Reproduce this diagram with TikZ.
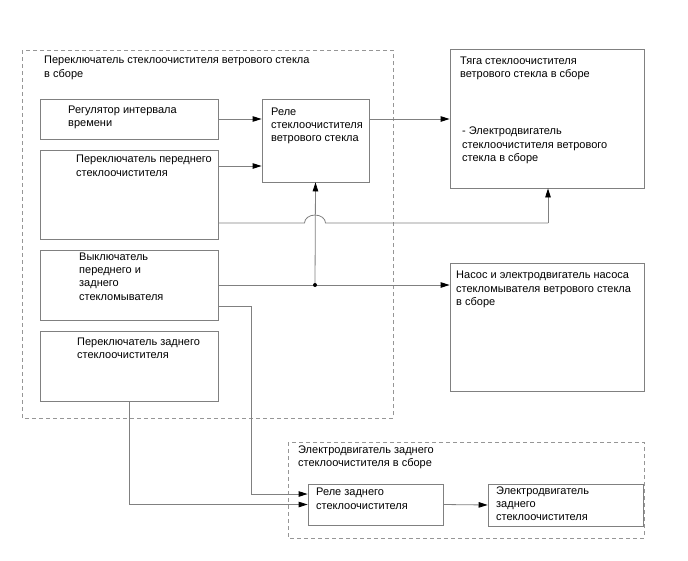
\documentclass[tikz,border=0pt]{standalone}
\usepackage{fontspec}
\setmainfont{Liberation Sans}
\usetikzlibrary{arrows.meta,calc}
\definecolor{ln}{RGB}{128,128,128}
\definecolor{dsh}{RGB}{150,150,150}
\tikzset{
  box/.style={draw=ln,line width=0.8pt,fill=white,inner sep=0pt},
  grp/.style={draw=dsh,line width=0.8pt,dash pattern=on 4pt off 3pt},
  txt/.style={anchor=north west,inner sep=0pt,align=left,font=\fontsize{11}{13.3}\selectfont},
  wire/.style={draw=ln,line width=0.8pt},
  arr/.style={wire,-{Triangle[length=9pt,width=5.5pt,fill=black,color=black]}},
  dot/.style={circle,fill=black,inner sep=0pt,minimum size=4pt}
}
\begin{document}
\begin{tikzpicture}[x=1pt,y=-1pt]
\useasboundingbox (0,0) rectangle (688,560);
\fill[white] (0,0) rectangle (688,560);
% groups
\draw[grp] (22,50) rectangle (393,418);
\node[txt] (gtitle) at (44,56) {Переключатель стеклоочистителя ветрового стекла\\в сборе};
\draw[grp] (288,442) rectangle (644,538);
\node[txt] (g2title) at (298,445.5) {Электродвигатель заднего\\стеклоочистителя в сборе};
% boxes
\node[box,minimum width=178pt,minimum height=40pt] (b1) at (129,119) {};
\node[txt] (t1) at (68,105.5) {Регулятор интервала\\времени};
\node[box,minimum width=178pt,minimum height=89pt] (b2) at (129,194.5) {};
\node[txt] (t2) at (76,155) {Переключатель переднего\\стеклоочистителя};
\node[box,minimum width=178pt,minimum height=70pt] (b3) at (129,285) {};
\node[txt] (t3) at (79,252.5) {Выключатель\\переднего и\\заднего\\стекломывателя};
\node[box,minimum width=178pt,minimum height=70pt] (b4) at (129,366) {};
\node[txt] (t4) at (77,337.5) {Переключатель заднего\\стеклоочистителя};
\node[box,minimum width=107pt,minimum height=83pt] (relay) at (315.5,140.5) {};
\node[txt] (tr) at (271,107.5) {Реле\\стеклоочистителя\\ветрового стекла};
\node[box,minimum width=194pt,minimum height=139pt] (tyaga) at (547,118.5) {};
\node[txt] (tt) at (460,56.5) {Тяга стеклоочистителя\\ветрового стекла в сборе};
\node[txt] (tt2) at (462,127) {- Электродвигатель\\стеклоочистителя ветрового\\стекла в сборе};
\node[box,minimum width=194pt,minimum height=128pt] (nasos) at (547,327) {};
\node[txt] (tn) at (456,271) {Насос и электродвигатель насоса\\стекломывателя ветрового стекла\\в сборе};
\node[box,minimum width=135pt,minimum height=41pt] (rr) at (375.5,504.5) {};
\node[txt] (trr) at (316,488) {Реле заднего\\стеклоочистителя};
\node[box,minimum width=155pt,minimum height=42pt] (rm) at (565.5,505) {};
\node[txt] (trm) at (496,486.5) {Электродвигатель\\заднего\\стеклоочистителя};
% junctions
\coordinate (j) at (315,285);
\coordinate (bend) at (548,223);
\coordinate (down) at (251,306);
% connectors
\draw[arr] (b1.east) -- (b1.east -| relay.west);
\draw[arr] (b2.east |- 0,166) -- (relay.west |- 0,166);
\draw[arr] (relay.east |- 0,119) -- (tyaga.west |- 0,119);
\draw[wire] (b2.east |- 0,223) -- (304.5,223)
  arc[start angle=180,end angle=360,x radius=10.5,y radius=8] -- (bend);
\draw[arr] (bend) -- (bend |- tyaga.south);
\draw[arr] (b3.east) -- (b3.east -| nasos.west);
\draw[arr] (j) -- (relay.south);
\node[dot] (jd) at (j) {};
\draw[arr] (b3.east |- down) -- (down) -- (down |- 0,494) -- (rr.west |- 0,494);
\draw[arr] (b4.south) |- (rr.west);
\draw[arr] (rr.east) -- (rm.west);
\end{tikzpicture}
\end{document}
